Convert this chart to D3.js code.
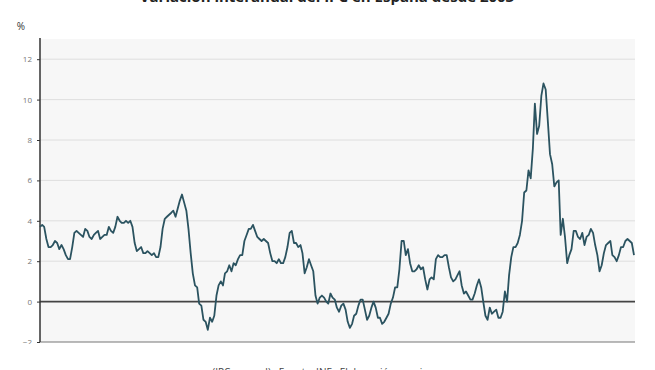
<!DOCTYPE html>
<html>
<head>
<meta charset="utf-8">
<script src="https://cdn.jsdelivr.net/npm/d3@7"></script>
<style>
  html, body { margin: 0; padding: 0; background: #fff; }
  svg { display: block; font-family: "Open Sans", "Liberation Sans", Arial, sans-serif; }
</style>
</head>
<body>
<svg id="chart" width="655" height="370"></svg>
<script>
// ---- data -------------------------------------------------------------
const titleText = "Variación interanual del IPC en España desde 2003";
const footerText = "(IPC general) · Fuente: INE · Elaboración propia";
const unitLabel = "%";
const startYear = 2003;          // first month: January 2003
const yTicks = [-2, 0, 2, 4, 6, 8, 10, 12];
// Monthly year-on-year CPI change (%), Jan 2003 -> Jan 2026
const ipc = [
  3.7, 3.8, 3.7, 3.1, 2.7, 2.7, 2.8, 3.0, 2.9, 2.6, 2.8, 2.6,      // 2003
  2.3, 2.1, 2.1, 2.7, 3.4, 3.5, 3.4, 3.3, 3.2, 3.6, 3.5, 3.2,      // 2004
  3.1, 3.3, 3.4, 3.5, 3.1, 3.2, 3.3, 3.3, 3.7, 3.5, 3.4, 3.7,      // 2005
  4.2, 4.0, 3.9, 3.9, 4.0, 3.9, 4.0, 3.7, 2.9, 2.5, 2.6, 2.7,      // 2006
  2.4, 2.4, 2.5, 2.4, 2.3, 2.4, 2.2, 2.2, 2.7, 3.6, 4.1, 4.2,      // 2007
  4.3, 4.4, 4.5, 4.2, 4.6, 5.0, 5.3, 4.9, 4.5, 3.6, 2.4, 1.4,      // 2008
  0.8, 0.7, -0.1, -0.2, -0.9, -1.0, -1.4, -0.8, -1.0, -0.7, 0.3, 0.8, // 2009
  1.0, 0.8, 1.4, 1.5, 1.8, 1.5, 1.9, 1.8, 2.1, 2.3, 2.3, 3.0,      // 2010
  3.3, 3.6, 3.6, 3.8, 3.5, 3.2, 3.1, 3.0, 3.1, 3.0, 2.9, 2.4,      // 2011
  2.0, 2.0, 1.9, 2.1, 1.9, 1.9, 2.2, 2.7, 3.4, 3.5, 2.9, 2.9,      // 2012
  2.7, 2.8, 2.4, 1.4, 1.7, 2.1, 1.8, 1.5, 0.3, -0.1, 0.2, 0.3,     // 2013
  0.2, 0.0, -0.1, 0.4, 0.2, 0.1, -0.3, -0.5, -0.2, -0.1, -0.4, -1.0, // 2014
  -1.3, -1.1, -0.7, -0.6, -0.2, 0.1, 0.1, -0.4, -0.9, -0.7, -0.3, 0.0, // 2015
  -0.3, -0.8, -0.8, -1.1, -1.0, -0.8, -0.6, -0.1, 0.2, 0.7, 0.7, 1.6, // 2016
  3.0, 3.0, 2.3, 2.6, 1.9, 1.5, 1.5, 1.6, 1.8, 1.6, 1.7, 1.1,      // 2017
  0.6, 1.1, 1.2, 1.1, 2.1, 2.3, 2.2, 2.2, 2.3, 2.3, 1.7, 1.2,      // 2018
  1.0, 1.1, 1.3, 1.5, 0.8, 0.4, 0.5, 0.3, 0.1, 0.1, 0.4, 0.8,      // 2019
  1.1, 0.7, 0.0, -0.7, -0.9, -0.3, -0.6, -0.5, -0.4, -0.8, -0.8, -0.5, // 2020
  0.5, 0.0, 1.3, 2.2, 2.7, 2.7, 2.9, 3.3, 4.0, 5.4, 5.5, 6.5,      // 2021
  6.1, 7.6, 9.8, 8.3, 8.7, 10.2, 10.8, 10.5, 8.9, 7.3, 6.8, 5.7,   // 2022
  5.9, 6.0, 3.3, 4.1, 3.2, 1.9, 2.3, 2.6, 3.5, 3.5, 3.2, 3.1,      // 2023
  3.4, 2.8, 3.2, 3.3, 3.6, 3.4, 2.8, 2.3, 1.5, 1.8, 2.4, 2.8,      // 2024
  2.9, 3.0, 2.3, 2.2, 2.0, 2.3, 2.7, 2.7, 3.0, 3.1, 3.0, 2.9,      // 2025
  2.3                                                              // 2026
];

// ---- layout -----------------------------------------------------------
const svg = d3.select("#chart");
const mLeft = 40, mRight = 635, mTop = 39, mBottom = 342;

const data = ipc.map((v, i) => ({ date: new Date(startYear, i, 1), value: v }));

const x = d3.scaleTime()
  .domain([data[0].date, data[data.length - 1].date])
  .range([mLeft, mRight - 1]);
const y = d3.scaleLinear().domain([-2, 13]).range([mBottom, mTop]);

// plot background
svg.append("rect")
  .attr("x", mLeft).attr("y", mTop)
  .attr("width", mRight - mLeft).attr("height", mBottom - mTop)
  .attr("fill", "#f7f7f7");

// grid lines
svg.append("g")
  .selectAll("line")
  .data(yTicks.filter(d => d !== 0 && d !== -2))
  .join("line")
  .attr("x1", mLeft).attr("x2", mRight)
  .attr("y1", d => y(d)).attr("y2", d => y(d))
  .attr("stroke", "#dedede").attr("stroke-width", 1);

// clip for y axis labels (bottom label is cut in the reference)
const defs = svg.append("defs");
defs.append("clipPath").attr("id", "yclip")
  .append("rect").attr("x", -60).attr("y", 0).attr("width", 80).attr("height", mBottom + 2);

// y axis
const yAxis = svg.append("g")
  .attr("transform", `translate(${mLeft},0)`)
  .attr("clip-path", "url(#yclip)")
  .call(d3.axisLeft(y).tickValues(yTicks).tickSize(3).tickPadding(5).tickFormat(d3.format("d")));
yAxis.select(".domain").remove();
yAxis.selectAll(".tick line").attr("stroke", "#333");
yAxis.selectAll(".tick text")
  .attr("fill", "#777")
  .style("font-size", "8px")
  .style("font-family", "\"Open Sans\", \"Liberation Sans\", Arial, sans-serif");

// bottom axis line
svg.append("line")
  .attr("x1", mLeft).attr("x2", mRight)
  .attr("y1", mBottom).attr("y2", mBottom)
  .attr("stroke", "#777").attr("stroke-width", 1.2);

// zero line
svg.append("line")
  .attr("x1", mLeft).attr("x2", mRight)
  .attr("y1", y(0)).attr("y2", y(0))
  .attr("stroke", "#444").attr("stroke-width", 1.6);

// y axis line
svg.append("line")
  .attr("x1", mLeft).attr("x2", mLeft)
  .attr("y1", mTop - 1).attr("y2", mBottom)
  .attr("stroke", "#333").attr("stroke-width", 1.5);

// series line
const line = d3.line().x(d => x(d.date)).y(d => y(d.value));
svg.append("path")
  .datum(data)
  .attr("d", line)
  .attr("fill", "none")
  .attr("stroke", "#2b5360")
  .attr("stroke-width", 1.8)
  .attr("stroke-linejoin", "round");

// unit label
svg.append("text")
  .attr("x", 21).attr("y", 30)
  .attr("text-anchor", "middle")
  .attr("fill", "#333")
  .style("font-size", "10px")
  .text(unitLabel);

// title (mostly above the visible area)
svg.append("text")
  .attr("x", 327).attr("y", 2)
  .attr("text-anchor", "middle")
  .attr("fill", "#222")
  .style("font-size", "15px")
  .style("font-weight", "bold")
  .text(titleText);

// footer (mostly below the visible area)
svg.append("text")
  .attr("x", 320).attr("y", 376)
  .attr("text-anchor", "middle")
  .attr("fill", "#444")
  .style("font-size", "10px")
  .text(footerText);
</script>
</body>
</html>
